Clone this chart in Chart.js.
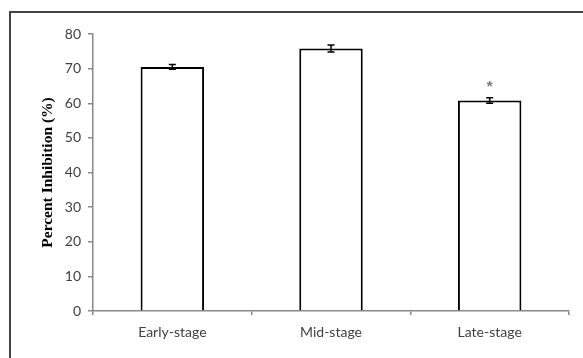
<!DOCTYPE html>
<html>
<head>
<meta charset="utf-8">
<script src="https://cdn.jsdelivr.net/npm/chart.js@4"></script>
<style>
  html, body { margin: 0; padding: 0; background: #fff; }
  #wrap { width: 583px; height: 358px; }
</style>
</head>
<body>
<div id="wrap"><canvas id="c" width="583" height="358"></canvas></div>
<script>
const categories = ["Early-stage", "Mid-stage", "Late-stage"];
const inhibition = [70.5, 75.8, 60.8];
const errors = [0.7, 1.0, 0.8];
const significance = ["", "", "*"];
const yTicks = [0, 10, 20, 30, 40, 50, 60, 70, 80];

const decorPlugin = {
  id: 'decor',
  beforeDraw(chart) {
    const ctx = chart.ctx;
    ctx.save();
    ctx.fillStyle = '#fff';
    ctx.fillRect(0, 0, chart.width, chart.height);
    ctx.strokeStyle = '#444';
    ctx.lineWidth = 2;
    ctx.beginPath();
    ctx.moveTo(10, chart.height);
    ctx.lineTo(10, 12);
    ctx.lineTo(chart.width, 12);
    ctx.stroke();
    ctx.restore();
  },
  afterDatasetsDraw(chart) {
    const ctx = chart.ctx;
    const y = chart.scales.y;
    const meta = chart.getDatasetMeta(0);
    ctx.save();
    ctx.strokeStyle = '#000';
    ctx.lineWidth = 1.5;
    meta.data.forEach((bar, i) => {
      const x = bar.x;
      const top = y.getPixelForValue(inhibition[i] + errors[i]);
      const bot = y.getPixelForValue(inhibition[i] - errors[i]);
      ctx.beginPath();
      ctx.moveTo(x, top); ctx.lineTo(x, bot);
      ctx.moveTo(x - 3.5, top); ctx.lineTo(x + 3.5, top);
      ctx.moveTo(x - 3.5, bot); ctx.lineTo(x + 3.5, bot);
      ctx.stroke();
      if (significance[i]) {
        ctx.fillStyle = '#777';
        ctx.font = 'bold 15px "Liberation Sans"';
        ctx.textAlign = 'center';
        ctx.textBaseline = 'middle';
        ctx.fillText(significance[i], x, top - 11);
      }
    });
    ctx.restore();
  }
};

new Chart(document.getElementById('c'), {
  type: 'bar',
  data: {
    labels: categories,
    datasets: [{
      data: inhibition,
      backgroundColor: '#ffffff',
      borderColor: '#000000',
      borderWidth: 2,
      borderSkipped: 'bottom',
      categoryPercentage: 1.0,
      barPercentage: 0.4
    }]
  },
  options: {
    responsive: false,
    animation: false,
    devicePixelRatio: 1,
    layout: { padding: { left: 0, top: 34, right: 14, bottom: 0 } },
    plugins: { legend: { display: false }, tooltip: { enabled: false } },
    scales: {
      x: {
        grid: { offset: true, drawOnChartArea: false, drawTicks: true, tickLength: 4, color: '#888', lineWidth: 1.5 },
        border: { color: '#888', width: 1.5 },
        ticks: { color: '#404040', font: { family: 'Lato', size: 14 }, padding: 9, maxRotation: 0 },
        afterFit(scale) { scale.height = 47; }
      },
      y: {
        min: 0, max: 80,
        afterBuildTicks(scale) { scale.ticks = yTicks.map(v => ({ value: v })); },
        grid: { drawOnChartArea: false, drawTicks: true, tickLength: 5, color: '#888', lineWidth: 1.5 },
        border: { color: '#888', width: 1.5 },
        ticks: { color: '#404040', font: { family: 'Lato', size: 14 }, padding: 7 },
        title: {
          display: true,
          text: 'Percent Inhibition (%)',
          color: '#000',
          font: { family: '"Liberation Serif"', size: 15.5, weight: 'bold' },
          padding: { top: 39, bottom: 0 }
        },
        afterFit(scale) { scale.width = 93; }
      }
    }
  },
  plugins: [decorPlugin]
});
</script>
</body>
</html>
